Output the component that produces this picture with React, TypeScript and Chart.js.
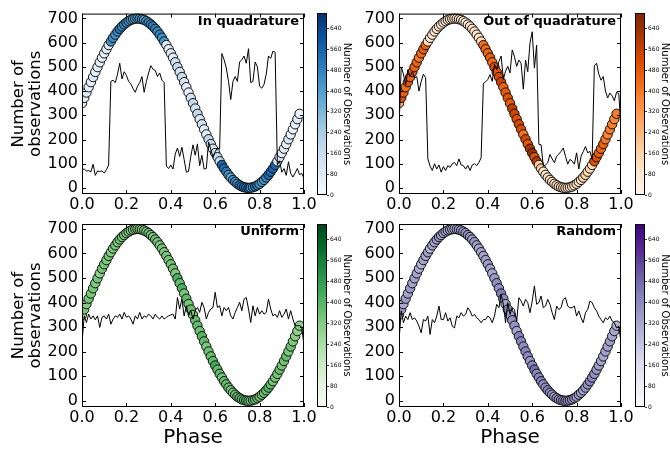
import React, { useEffect, useRef } from "react";
import { Chart, registerables } from "chart.js";

Chart.register(...registerables);
Chart.defaults.font.family = '"DejaVu Sans", "Liberation Sans", sans-serif';
Chart.defaults.color = "#000";

// ---------------- data ----------------
const linePhase = [
  0.0, 0.01, 0.02, 0.03, 0.04, 0.05, 0.06, 0.07, 0.08, 0.09,
  0.1, 0.11, 0.12, 0.13, 0.14, 0.15, 0.16, 0.17, 0.18, 0.19,
  0.2, 0.21, 0.22, 0.23, 0.24, 0.25, 0.26, 0.27, 0.28, 0.29,
  0.3, 0.31, 0.32, 0.33, 0.34, 0.35, 0.36, 0.37, 0.38, 0.39,
  0.4, 0.41, 0.42, 0.43, 0.44, 0.45, 0.46, 0.47, 0.48, 0.49,
  0.5, 0.51, 0.52, 0.53, 0.54, 0.55, 0.56, 0.57, 0.58, 0.59,
  0.6, 0.61, 0.62, 0.63, 0.64, 0.65, 0.66, 0.67, 0.68, 0.69,
  0.7, 0.71, 0.72, 0.73, 0.74, 0.75, 0.76, 0.77, 0.78, 0.79,
  0.8, 0.81, 0.82, 0.83, 0.84, 0.85, 0.86, 0.87, 0.88, 0.89,
  0.9, 0.91, 0.92, 0.93, 0.94, 0.95, 0.96, 0.97, 0.98, 0.99,
  1.0,
];

const circlePhase = linePhase.slice(0, 99);

const signalValues = [
  350, 372, 394, 416, 437, 458, 479, 499, 519, 538,
  556, 573, 590, 605, 620, 633, 646, 657, 667, 675,
  683, 689, 694, 697, 699, 700, 699, 697, 694, 689,
  683, 675, 667, 657, 646, 633, 620, 605, 590, 573,
  556, 538, 519, 499, 479, 458, 437, 416, 394, 372,
  350, 328, 306, 284, 263, 242, 221, 201, 181, 162,
  144, 127, 110, 95, 80, 67, 54, 43, 33, 25,
  17, 11, 6, 3, 1, 0, 1, 3, 6, 11,
  17, 25, 33, 43, 54, 67, 80, 95, 110, 127,
  144, 162, 181, 201, 221, 242, 263, 284, 306,
];

const obsInQuadrature = [
  76, 78, 70, 72, 66, 98, 52, 70, 68, 70,
  62, 75, 95, 440, 445, 435, 470, 515, 450, 480,
  465, 440, 430, 410, 395, 420, 435, 460, 395, 440,
  475, 505, 490, 485, 460, 475, 445, 435, 90, 80,
  95, 78, 140, 165, 130, 168, 118, 65, 68, 130,
  178, 135, 182, 92, 135, 78, 80, 190, 160, 125,
  150, 165, 160, 555, 530, 495, 440, 365, 440, 460,
  440, 520, 530, 545, 515, 575, 435, 440, 520, 500,
  420, 412, 428, 470, 545, 535, 565, 560, 95, 112,
  65, 80, 52, 108, 60, 45, 62, 80, 55, 60,
  38,
];

const obsOutQuadrature = [
  250, 500, 470, 425, 488, 460, 480, 455, 460, 400,
  440, 470, 455, 120, 90, 72, 100, 78, 95, 65,
  88, 72, 92, 85, 100, 105, 92, 120, 95, 92,
  78, 93, 72, 95, 100, 92, 105, 125, 432, 438,
  448, 468, 440, 510, 488, 522, 545, 448, 482, 502,
  475, 570, 542, 502, 528, 515, 408, 528, 480, 598,
  645, 495, 590, 180, 178, 90, 95, 104, 138, 120,
  104, 131, 140, 151, 165, 130, 98, 118, 111, 98,
  145, 78, 131, 150, 171, 145, 151, 118, 505, 515,
  470, 445, 460, 400, 372, 392, 380, 360, 395, 390,
  245,
];

const obsUniform = [
  238, 346, 319, 353, 333, 346, 330, 346, 299, 340,
  346, 333, 353, 312, 333, 346, 340, 353, 333, 360,
  340, 346, 333, 312, 346, 333, 360, 333, 346, 340,
  353, 346, 333, 353, 340, 333, 346, 333, 340, 346,
  350, 353, 333, 421, 374, 414, 346, 387, 346, 367,
  333, 367, 380, 360, 401, 380, 333, 360, 374, 380,
  442, 380, 387, 346, 380, 367, 380, 346, 333, 360,
  380, 401, 367, 414, 421, 374, 319, 387, 346, 380,
  353, 367, 353, 360, 414, 374, 346, 353, 340, 367,
  340, 353, 374, 333, 367, 333, 306, 306, 306, 300,
  224,
];

const obsRandom = [
  243, 366, 318, 345, 331, 359, 331, 338, 325, 304,
  277, 331, 325, 345, 270, 331, 318, 345, 386, 331,
  331, 359, 325, 338, 304, 297, 345, 338, 359, 345,
  352, 379, 366, 345, 352, 338, 331, 318, 331, 331,
  345, 338, 318, 345, 393, 379, 434, 393, 318, 400,
  352, 379, 372, 325, 420, 406, 386, 413, 400, 359,
  406, 468, 393, 400, 427, 379, 386, 413, 393, 359,
  331, 386, 372, 379, 413, 420, 386, 379, 379, 386,
  345, 366, 338, 318, 359, 372, 406, 400, 379, 366,
  345, 331, 318, 338, 331, 345, 325, 318, 297, 304,
  236,
];

const xTicks = [0, 0.2, 0.4, 0.6, 0.8, 1.0];
const yTicks = [0, 100, 200, 300, 400, 500, 600, 700];
const cbTicks = [0, 80, 160, 240, 320, 400, 480, 560, 640];
const panelTitles = ["In quadrature", "Out of quadrature", "Uniform", "Random"];
const yAxisTitle = ["Number of", "observations"];
const xAxisTitle = "Phase";
const cbTitle = "Number of Observations";

const Y_MIN = -25;
const Y_MAX = 720;
const CB_MAX = 700;

// ---------------- colour maps (matplotlib) ----------------
const BLUES = ["#f7fbff", "#deebf7", "#c6dbef", "#9ecae1", "#6baed6", "#4292c6", "#2171b5", "#08519c", "#08306b"];
const ORANGES = ["#fff5eb", "#fee6ce", "#fdd0a2", "#fdae6b", "#fd8d3c", "#f16913", "#d94801", "#a63603", "#7f2704"];
const GREENS = ["#f7fcf5", "#e5f5e0", "#c7e9c0", "#a1d99b", "#74c476", "#41ab5d", "#238b45", "#006d2c", "#00441b"];
const PURPLES = ["#fcfbfd", "#efedf5", "#dadaeb", "#bcbddc", "#9e9ac8", "#807dba", "#6a51a3", "#54278f", "#3f007d"];

function hexToRgb(h: string) {
  const n = parseInt(h.slice(1), 16);
  return [(n >> 16) & 255, (n >> 8) & 255, n & 255];
}
function cmapColor(stops: string[], t: number) {
  t = Math.min(1, Math.max(0, t));
  const s = t * (stops.length - 1);
  const i = Math.min(Math.floor(s), stops.length - 2);
  const f = s - i;
  const a = hexToRgb(stops[i]);
  const b = hexToRgb(stops[i + 1]);
  return `rgb(${a.map((v, k) => Math.round(v + (b[k] - v) * f)).join(",")})`;
}

// ---------------- layout ----------------
type Box = { l: number; t: number; w: number; h: number; padL: number; padR: number; padT: number; padB: number; yW: number; xH?: number; titlePad?: number };
type PanelSpec = {
  title: string;
  obs: number[];
  cmap: string[];
  showYTitle: boolean;
  showXTitle: boolean;
  main: Box;
  cb: Box;
};

const panels: PanelSpec[] = [
  {
    title: panelTitles[0], obs: obsInQuadrature, cmap: BLUES, showYTitle: true, showXTitle: false,
    main: { l: 0, t: 0, w: 320, h: 215, padL: 0, padR: 16, padT: 13, padB: 0, yW: 82, xH: 21 },
    cb: { l: 300, t: 0, w: 60, h: 215, padL: 17, padR: 0, padT: 13, padB: 20, yW: 33, titlePad: 8 },
  },
  {
    title: panelTitles[1], obs: obsOutQuadrature, cmap: ORANGES, showYTitle: false, showXTitle: false,
    main: { l: 340, t: 0, w: 297, h: 215, padL: 0, padR: 16, padT: 13, padB: 0, yW: 59, xH: 21 },
    cb: { l: 620, t: 0, w: 50, h: 215, padL: 15, padR: 0, padT: 13, padB: 20, yW: 25, titlePad: 0 },
  },
  {
    title: panelTitles[2], obs: obsUniform, cmap: GREENS, showYTitle: true, showXTitle: true,
    main: { l: 0, t: 210, w: 320, h: 240, padL: 0, padR: 16, padT: 14, padB: 0, yW: 82, xH: 43 },
    cb: { l: 300, t: 210, w: 60, h: 240, padL: 17, padR: 0, padT: 14, padB: 43, yW: 33, titlePad: 8 },
  },
  {
    title: panelTitles[3], obs: obsRandom, cmap: PURPLES, showYTitle: false, showXTitle: true,
    main: { l: 340, t: 210, w: 297, h: 240, padL: 0, padR: 16, padT: 14, padB: 0, yW: 59, xH: 43 },
    cb: { l: 620, t: 210, w: 50, h: 240, padL: 15, padR: 0, padT: 14, padB: 43, yW: 25, titlePad: 0 },
  },
];

function framePlugin(title: string) {
  return {
    id: "frameAndTitle",
    afterDatasetsDraw(chart: any) {
      const { ctx, chartArea } = chart;
      const { left, right, top, bottom } = chartArea;
      const xs = chart.scales.x;
      const ys = chart.scales.y;
      ctx.save();
      ctx.strokeStyle = "#000";
      ctx.lineWidth = 1;
      ctx.beginPath();
      for (const t of xs.ticks) {
        const px = Math.round(xs.getPixelForValue(t.value)) + 0.5;
        ctx.moveTo(px, bottom);
        ctx.lineTo(px, bottom - 4);
        ctx.moveTo(px, top);
        ctx.lineTo(px, top + 4);
      }
      for (const t of ys.ticks) {
        const py = Math.round(ys.getPixelForValue(t.value)) + 0.5;
        ctx.moveTo(left, py);
        ctx.lineTo(left + 4, py);
        ctx.moveTo(right, py);
        ctx.lineTo(right - 4, py);
      }
      ctx.stroke();
      ctx.strokeRect(left + 0.5, top + 0.5, right - left - 1, bottom - top - 1);
      ctx.fillStyle = "#000";
      ctx.font = 'bold 13px "DejaVu Sans", sans-serif';
      ctx.textAlign = "right";
      ctx.textBaseline = "middle";
      ctx.fillText(title, right - 5, top + 8);
      ctx.restore();
    },
  };
}

const outlinePlugin = {
  id: "cbOutline",
  afterDraw(chart: any) {
    const { ctx, chartArea } = chart;
    const { left, right, top, bottom } = chartArea;
    ctx.save();
    ctx.strokeStyle = "#000";
    ctx.lineWidth = 1;
    ctx.strokeRect(left + 0.5, top + 0.5, right - left - 1, bottom - top - 1);
    ctx.restore();
  },
};

function mainConfig(p: PanelSpec): any {
  const colors = circlePhase.map((_, i) => cmapColor(p.cmap, p.obs[i] / CB_MAX));
  const m = p.main;
  return {
    type: "scatter",
    data: {
      datasets: [
        {
          type: "line",
          data: linePhase.map((x, i) => ({ x, y: p.obs[i] })),
          showLine: true,
          borderColor: "#000",
          borderWidth: 1,
          pointRadius: 0,
          tension: 0,
          fill: false,
          order: 0,
        },
        {
          type: "scatter",
          data: circlePhase.map((x, i) => ({ x, y: signalValues[i] })),
          pointRadius: 4.7,
          pointBackgroundColor: colors,
          pointBorderColor: "#111",
          pointBorderWidth: 1,
          order: 1,
        },
      ],
    },
    options: {
      animation: false,
      responsive: false,
      maintainAspectRatio: false,
      events: [],
      layout: { padding: { left: m.padL, right: m.padR, top: m.padT, bottom: m.padB } },
      plugins: { legend: { display: false }, tooltip: { enabled: false } },
      scales: {
        x: {
          type: "linear",
          min: 0,
          max: 1,
          afterBuildTicks: (s: any) => {
            s.ticks = xTicks.map((v) => ({ value: v }));
          },
          afterFit: (s: any) => {
            s.height = m.xH;
          },
          grid: { display: false, drawTicks: false },
          border: { display: false },
          ticks: {
            font: { size: 16 },
            color: "#000",
            padding: 1,
            maxRotation: 0,
            autoSkip: false,
            callback: (v: any) => Number(v).toFixed(1),
          },
          title: {
            display: p.showXTitle,
            text: xAxisTitle,
            color: "#000",
            font: { size: 20, lineHeight: 1.2 },
            padding: { top: 0, bottom: 0 },
          },
        },
        y: {
          type: "linear",
          min: Y_MIN,
          max: Y_MAX,
          afterBuildTicks: (s: any) => {
            s.ticks = yTicks.map((v) => ({ value: v }));
          },
          afterFit: (s: any) => {
            s.width = m.yW;
          },
          grid: { display: false, drawTicks: false },
          border: { display: false },
          ticks: { font: { size: 16 }, color: "#000", padding: 4, autoSkip: false },
          title: {
            display: p.showYTitle,
            text: yAxisTitle,
            color: "#000",
            font: { size: 16.5, lineHeight: 1.05 },
            padding: { top: 10, bottom: 0 },
          },
        },
      },
    },
    plugins: [framePlugin(p.title)],
  };
}

function cbConfig(p: PanelSpec): any {
  const c = p.cb;
  return {
    type: "bar",
    data: {
      labels: [""],
      datasets: [
        {
          data: [CB_MAX],
          borderWidth: 0,
          barPercentage: 1,
          categoryPercentage: 1,
          backgroundColor: (ctx: any) => {
            const ca = ctx.chart.chartArea;
            if (!ca) return p.cmap[0];
            const g = ctx.chart.ctx.createLinearGradient(0, ca.bottom, 0, ca.top);
            p.cmap.forEach((s, i) => g.addColorStop(i / (p.cmap.length - 1), s));
            return g;
          },
        },
      ],
    },
    options: {
      animation: false,
      responsive: false,
      maintainAspectRatio: false,
      events: [],
      layout: { padding: { left: c.padL, right: c.padR, top: c.padT, bottom: c.padB } },
      plugins: { legend: { display: false }, tooltip: { enabled: false } },
      scales: {
        x: { display: false },
        y: {
          position: "right",
          min: 0,
          max: CB_MAX,
          afterBuildTicks: (s: any) => {
            s.ticks = cbTicks.map((v) => ({ value: v }));
          },
          afterFit: (s: any) => {
            s.width = c.yW;
          },
          grid: { display: true, drawOnChartArea: false, drawTicks: true, tickLength: 2, color: "#000", lineWidth: 0.8 },
          border: { display: false },
          ticks: { font: { size: 6 }, color: "#000", padding: 1, autoSkip: false },
          title: {
            display: true,
            text: cbTitle,
            color: "#000",
            font: { size: 10, lineHeight: 1.0 },
            padding: { top: c.titlePad, bottom: 0 },
          },
        },
      },
    },
    plugins: [outlinePlugin],
  };
}

function Panel({ spec }: { spec: PanelSpec }) {
  const mainRef = useRef<HTMLCanvasElement>(null);
  const cbRef = useRef<HTMLCanvasElement>(null);
  useEffect(() => {
    const main = new Chart(mainRef.current as HTMLCanvasElement, mainConfig(spec));
    const cb = new Chart(cbRef.current as HTMLCanvasElement, cbConfig(spec));
    return () => {
      main.destroy();
      cb.destroy();
    };
  }, [spec]);
  const m = spec.main;
  const c = spec.cb;
  return (
    <>
      <canvas
        ref={mainRef}
        width={m.w}
        height={m.h}
        style={{ position: "absolute", left: m.l, top: m.t, width: m.w, height: m.h }}
      />
      <canvas
        ref={cbRef}
        width={c.w}
        height={c.h}
        style={{ position: "absolute", left: c.l, top: c.t, width: c.w, height: c.h }}
      />
    </>
  );
}

export default function App() {
  return (
    <div
      style={{
        position: "absolute",
        left: 0,
        top: 0,
        width: 670,
        height: 450,
        background: "#fff",
        overflow: "hidden",
      }}
    >
      {panels.map((p) => (
        <Panel key={p.title} spec={p} />
      ))}
    </div>
  );
}
